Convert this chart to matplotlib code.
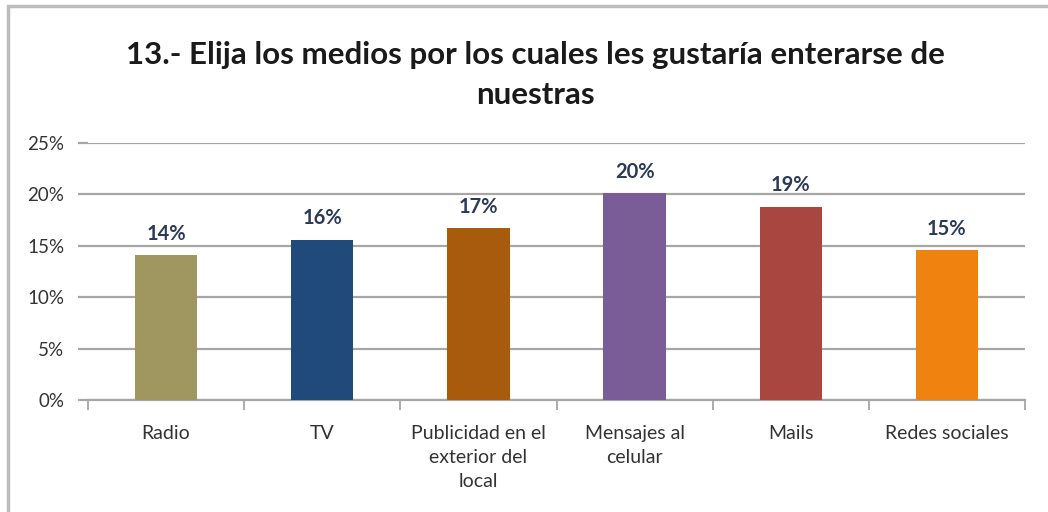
import matplotlib.pyplot as plt
from matplotlib.patches import Rectangle
from matplotlib.ticker import FuncFormatter, FixedLocator
import numpy as np

# survey answers: preferred channels
categorias = ["Radio", "TV", "Publicidad en el\nexterior del\nlocal",
              "Mensajes al\ncelular", "Mails", "Redes sociales"]
porcentajes = [0.141, 0.156, 0.167, 0.201, 0.188, 0.146]
colores = ["#A09660", "#1F4A7A", "#A85B0C", "#7A5C97", "#A8463F", "#F0830F"]
titulo = "13.- Elija los medios por los cuales les gustaría enterarse de\nnuestras"

plt.rcParams['font.family'] = ['Lato', 'DejaVu Sans']

fig = plt.figure(figsize=(10.48, 5.12), dpi=100)
ax = fig.add_axes([88 / 1048, 112 / 512, 937 / 1048, 257 / 512])

x = np.arange(len(categorias))
ax.bar(x, porcentajes, width=0.4, color=colores, zorder=3)

# value labels above each bar
for xi, v in zip(x, porcentajes):
    ax.text(xi, v + 0.011, "{:.0%}".format(v), ha="center", va="bottom",
            fontsize=14.5, fontweight="bold", color="#2B3A57", zorder=4)

ax.set_xlim(-0.5, len(categorias) - 0.5)
ax.set_ylim(0, 0.25)
ax.set_yticks(np.arange(0, 0.26, 0.05))
ax.yaxis.set_major_formatter(FuncFormatter(lambda v, p: "{:.0%}".format(v)))
ax.grid(axis="y", color="#A6A6A6", linewidth=1.6, zorder=0)

ax.set_xticks(x)
ax.set_xticklabels(categorias, fontsize=14, color="#333333", linespacing=1.5)
ax.xaxis.set_minor_locator(FixedLocator(np.arange(-0.5, len(categorias), 1.0)))
ax.tick_params(axis="x", which="major", length=0, pad=18)
ax.tick_params(axis="x", which="minor", length=7, width=1.3, color="#A6A6A6",
               direction="out")
ax.tick_params(axis="y", length=7, width=1.6, color="#A6A6A6", pad=10,
               labelsize=13.5, labelcolor="#333333")

for s in ["top", "right", "left"]:
    ax.spines[s].set_visible(False)
ax.spines["bottom"].set_color("#A6A6A6")
ax.spines["bottom"].set_linewidth(1.6)

fig.text(535 / 1048, 1 - 75 / 512, titulo, ha="center", va="center",
         fontsize=22.5, fontweight="bold", color="#1A1A1A", linespacing=1.5)

# outer chart frame
fig.patches.append(Rectangle((8 / 1048, -0.1), 1.2, 1 - 6 / 512 + 0.1,
                             transform=fig.transFigure, fill=False,
                             edgecolor="#BDBDBD", linewidth=2.5))

fig.savefig("out.png", dpi=100)
